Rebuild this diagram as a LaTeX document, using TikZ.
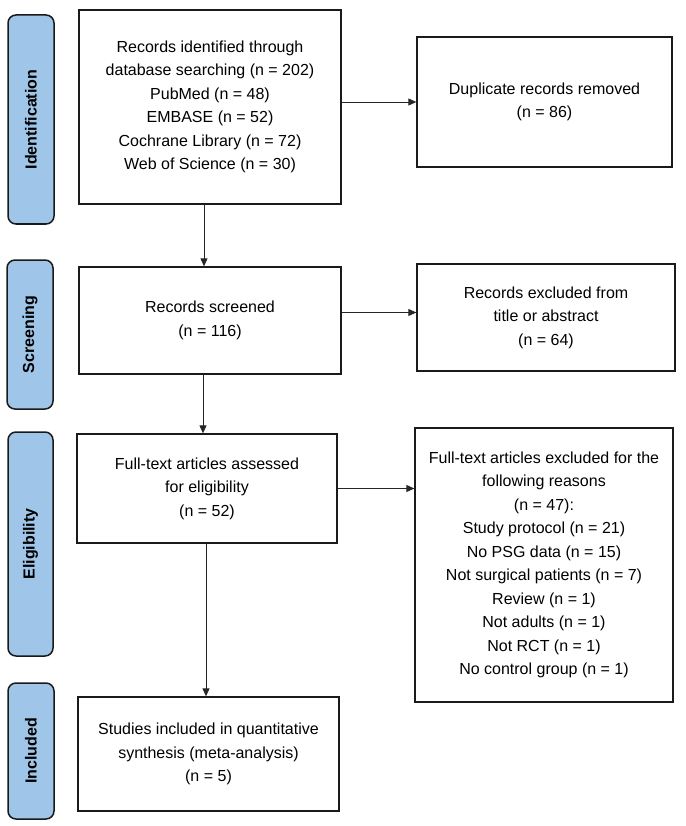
\documentclass[tikz,border=0pt]{standalone}
\usepackage{fontspec}
\setmainfont{Liberation Sans}
\usetikzlibrary{arrows.meta}
\definecolor{barblue}{HTML}{9FC5E8}
\definecolor{edge}{HTML}{1A1A1A}
\tikzset{
  box/.style={draw=edge, line width=1.3pt, fill=white, inner sep=0pt, align=center,
    font=\fontsize{16}{23.5}\selectfont},
  bar/.style={draw=edge, line width=1.5pt, fill=barblue, rounded corners=8pt, inner sep=0pt,
    font=\fontsize{16}{20}\selectfont\bfseries},
  arr/.style={draw=black!85, line width=0.9pt, -{Triangle[length=8pt,width=7pt]}}
}
\begin{document}
\begin{tikzpicture}[x=1pt,y=-1pt]
\useasboundingbox (0,0) rectangle (685,826);
% phase bars
\node[bar, minimum width=46pt, minimum height=209pt] (pid) at (31,119.5) {};
\node[rotate=90, font=\fontsize{16}{20}\selectfont\bfseries] (tid) at (pid.center) {Identification};
\node[bar, minimum width=46pt, minimum height=149pt] (psc) at (30,334.5) {};
\node[rotate=90, font=\fontsize{16}{20}\selectfont\bfseries] (tsc) at (psc.center) {Screening};
\node[bar, minimum width=45pt, minimum height=224pt] (pel) at (30.5,544) {};
\node[rotate=90, font=\fontsize{16}{20}\selectfont\bfseries] (tel) at (pel.center) {Eligibility};
\node[bar, minimum width=46pt, minimum height=136pt] (pin) at (31,751) {};
\node[rotate=90, font=\fontsize{16}{20}\selectfont\bfseries] (tin) at (pin.center) {Included};
% boxes
\node[box, minimum width=262pt, minimum height=194pt] (b1) at (210,107)
  {Records identified through\\database searching (n = 202)\\PubMed (n = 48)\\EMBASE (n = 52)\\Cochrane Library (n = 72)\\Web of Science (n = 30)};
\node[box, minimum width=255pt, minimum height=130pt] (b2) at (544.5,102)
  {Duplicate records removed\\(n = 86)};
\node[box, minimum width=262pt, minimum height=107pt] (b3) at (210,320.5)
  {Records screened\\(n = 116)};
\node[box, minimum width=258pt, minimum height=107pt] (b4) at (546,317.5)
  {Records excluded from\\title or abstract\\(n = 64)};
\node[box, minimum width=260pt, minimum height=109pt] (b5) at (207,488.5)
  {Full-text articles assessed\\for eligibility\\(n = 52)};
\node[box, minimum width=258pt, minimum height=274pt] (b6) at (544,565)
  {Full-text articles excluded for the\\following reasons\\(n = 47):\\Study protocol (n = 21)\\No PSG data (n = 15)\\Not surgical patients (n = 7)\\Review (n = 1)\\Not adults (n = 1)\\Not RCT (n = 1)\\No control group (n = 1)};
\node[box, minimum width=261pt, minimum height=114pt] (b7) at (208.5,754)
  {Studies included in quantitative\\synthesis (meta-analysis)\\(n = 5)};
% connectors
\draw[arr] ([xshift=-6pt]b1.south) -- ([xshift=-6pt]b1.south |- b3.north);
\draw[arr] (b1.east |- b2.west) -- (b2.west);
\draw[arr] ([xshift=-7pt]b3.south) -- ([xshift=-7pt]b3.south |- b5.north);
\draw[arr] ([yshift=8pt]b3.east) -- ([yshift=8pt]b3.east -| b4.west);
\draw[arr] (b5.east) -- (b5.east -| b6.west);
\draw[arr] ([xshift=-1pt]b5.south) -- ([xshift=-1pt]b5.south |- b7.north);
\end{tikzpicture}
\end{document}
